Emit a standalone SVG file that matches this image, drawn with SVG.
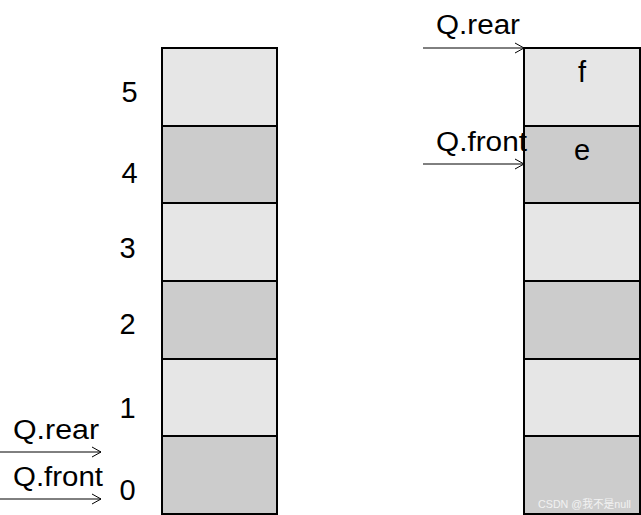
<svg xmlns="http://www.w3.org/2000/svg" width="641" height="515" viewBox="0 0 641 515">
<style>
.light{fill:#e6e6e6;stroke:#000;stroke-width:2}
.dark{fill:#cccccc;stroke:#000;stroke-width:2}
.t{font-family:"Liberation Sans",Arial,sans-serif;font-size:29px;fill:#000}
.lbl{font-family:"Liberation Sans",Arial,sans-serif;font-size:27px;fill:#000}
.arr{stroke:#000;stroke-width:1;fill:none}
.wm{font-family:"Liberation Sans","Noto Sans CJK SC",sans-serif;font-size:11px;fill:#f2f2f2}
</style>
<defs>
<marker id="ah" markerUnits="userSpaceOnUse" markerWidth="12" markerHeight="12" refX="10" refY="6" orient="auto">
<path d="M1,1 L10,6 L1,11" fill="none" stroke="#000" stroke-width="1"/>
</marker>
</defs>
<rect width="641" height="515" fill="#fff"/>
<g id="left-queue">
<g id="L5"><rect class="light" x="162" y="48" width="115" height="78"/></g>
<g id="L4"><rect class="dark" x="162" y="126" width="115" height="77"/></g>
<g id="L3"><rect class="light" x="162" y="203" width="115" height="78"/></g>
<g id="L2"><rect class="dark" x="162" y="281" width="115" height="78"/></g>
<g id="L1"><rect class="light" x="162" y="359" width="115" height="77"/></g>
<g id="L0"><rect class="dark" x="162" y="436" width="115" height="78"/></g>
</g>
<g id="indices">
<text class="t" x="129.5" y="102" text-anchor="middle">5</text>
<text class="t" x="129.5" y="183" text-anchor="middle">4</text>
<text class="t" x="127.5" y="258" text-anchor="middle">3</text>
<text class="t" x="127.5" y="334" text-anchor="middle">2</text>
<text class="t" x="127.5" y="418" text-anchor="middle">1</text>
<text class="t" x="127.5" y="500" text-anchor="middle">0</text>
</g>
<g id="right-queue">
<g id="R5"><rect class="light" x="524" y="48" width="116" height="78"/><text class="t" x="582" y="82" text-anchor="middle">f</text></g>
<g id="R4"><rect class="dark" x="524" y="126" width="116" height="77"/><text class="t" x="582" y="160" text-anchor="middle">e</text></g>
<g id="R3"><rect class="light" x="524" y="203" width="116" height="78"/></g>
<g id="R2"><rect class="dark" x="524" y="281" width="116" height="78"/></g>
<g id="R1"><rect class="light" x="524" y="359" width="116" height="77"/></g>
<g id="R0"><rect class="dark" x="524" y="436" width="116" height="78"/></g>
</g>
<g id="pointer-labels">
<text class="lbl" x="13" y="439" textLength="86" lengthAdjust="spacingAndGlyphs">Q.rear</text>
<text class="lbl" x="13" y="486" textLength="90" lengthAdjust="spacingAndGlyphs">Q.front</text>
<text class="lbl" x="436" y="34" textLength="84" lengthAdjust="spacingAndGlyphs">Q.rear</text>
<text class="lbl" x="436" y="151" textLength="91" lengthAdjust="spacingAndGlyphs">Q.front</text>
</g>
<g id="connectors">
<line class="arr" x1="0" y1="452" x2="101" y2="452" marker-end="url(#ah)"/>
<line class="arr" x1="0" y1="499" x2="101" y2="499" marker-end="url(#ah)"/>
<line class="arr" x1="423" y1="48" x2="524" y2="48" marker-end="url(#ah)"/>
<line class="arr" x1="423" y1="164" x2="524" y2="164" marker-end="url(#ah)"/>
</g>
<text class="wm" x="538" y="508" textLength="93" lengthAdjust="spacingAndGlyphs">CSDN @我不是null</text>
</svg>
